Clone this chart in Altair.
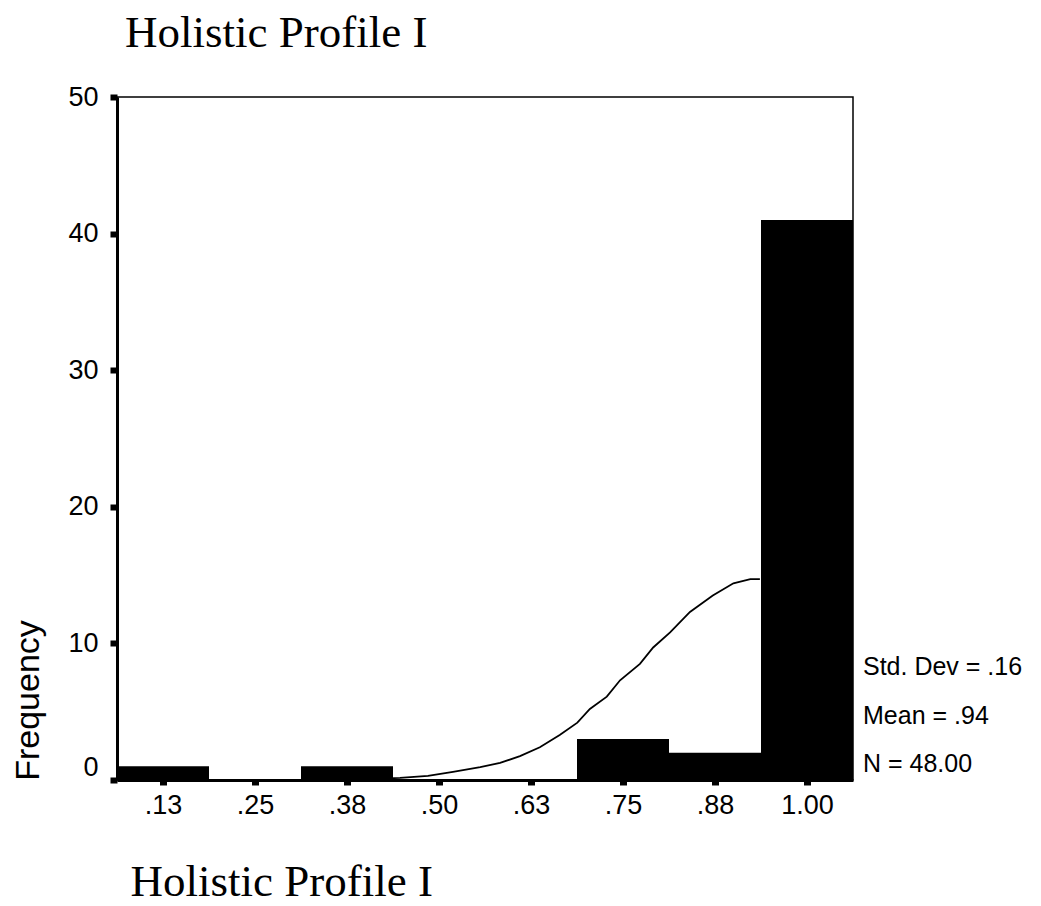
import altair as alt
import pandas as pd

# ---- data ----
bin_centers = [0.125, 0.25, 0.375, 0.5, 0.625, 0.75, 0.875, 1.0]
tick_labels = [".13", ".25", ".38", ".50", ".63", ".75", ".88", "1.00"]
frequencies = [1, 0, 1, 0, 0, 3, 2, 41]
bin_width = 0.125

curve_x = [0.40, 0.447, 0.485, 0.519, 0.556, 0.583, 0.610, 0.637, 0.664, 0.688,
           0.705, 0.728, 0.746, 0.773, 0.791, 0.814, 0.841, 0.872, 0.900, 0.923, 0.936]
curve_y = [0.05, 0.15, 0.3, 0.6, 0.95, 1.25, 1.75, 2.4, 3.3, 4.2,
           5.2, 6.1, 7.3, 8.5, 9.7, 10.8, 12.3, 13.5, 14.4, 14.7, 14.7]

y_ticks = [0, 10, 20, 30, 40, 50]
stats_lines = ["Std. Dev = .16", "Mean = .94", "N = 48.00"]
title_text = "Holistic Profile I"

# ---- tables ----
bars_df = pd.DataFrame({"center": bin_centers, "count": frequencies})
bars_df["x0"] = bars_df["center"] - bin_width / 2
bars_df["x1"] = bars_df["center"] + bin_width / 2
bars_df = bars_df[bars_df["count"] > 0]
curve_df = pd.DataFrame({"x": curve_x, "y": curve_y})

label_expr = " : ".join(
    f"abs(datum.value - {c}) < 0.001 ? '{l}'" for c, l in zip(bin_centers, tick_labels)
) + " : ''"

x_scale = alt.Scale(domain=[bin_centers[0] - bin_width / 2, bin_centers[-1] + bin_width / 2],
                    nice=False, zero=False)
y_scale = alt.Scale(domain=[0, 50], nice=False)

x_axis = alt.Axis(
    values=bin_centers, labelExpr=label_expr,
    title=title_text, titleFont="Liberation Serif", titleFontSize=45,
    titleFontWeight="normal", titleColor="black", titleAnchor="start",
    titleAlign="left", titleBaseline="alphabetic", titleX=13, titleY=115,
    labelFont="Liberation Sans", labelFontSize=27, labelColor="black",
    labelPadding=7, labelFlush=False, labelOverlap=False,
    tickSize=5, tickWidth=7, tickColor="black",
    domainColor="black", domainWidth=3, grid=False,
)
y_axis = alt.Axis(
    values=y_ticks, title="Frequency", titleFont="Liberation Sans",
    titleFontSize=34, titleFontWeight="normal", titleColor="black",
    titleAngle=270, titleAlign="center", titleBaseline="middle",
    titleX=-89, titleY=603,
    labelFont="Liberation Sans", labelFontSize=27, labelColor="black",
    labelPadding=12, labelFlush=False,
    labelOffset={"condition": {"test": "datum.value == 0", "value": -13}, "value": 0},
    tickSize=7, tickWidth=6, tickColor="black",
    domainColor="black", domainWidth=3, grid=False,
)

curve = alt.Chart(curve_df).mark_line(color="black", strokeWidth=1.8).encode(
    x=alt.X("x:Q", scale=x_scale, axis=x_axis),
    y=alt.Y("y:Q", scale=y_scale, axis=y_axis),
)

bars = alt.Chart(bars_df).mark_rect(color="black").encode(
    x=alt.X("x0:Q", scale=x_scale, axis=x_axis),
    x2="x1:Q",
    y=alt.Y("count:Q", scale=y_scale, axis=y_axis),
    y2=alt.datum(0),
)

texts = []
for i, s in enumerate(stats_lines):
    texts.append(
        alt.Chart(alt.Data(values=[{}])).mark_text(
            text=s, align="left", baseline="alphabetic",
            font="Liberation Sans", fontSize=25, color="black",
        ).encode(x=alt.value(746), y=alt.value(578 + i * 48.5))
    )

chart = alt.layer(curve, bars, *texts).properties(
    width=736, height=683,
    autosize="none",
    background="white",
    padding={"left": 117, "top": 97, "right": 188, "bottom": 126},
    title=alt.TitleParams(
        title_text, anchor="start", frame="group", font="Liberation Serif",
        fontSize=45, fontWeight="normal", color="black", dx=8, offset=27,
    ),
).configure_view(stroke="black", strokeWidth=1.5)

chart.save("out.html", embed_options={"renderer": "svg", "actions": False})
